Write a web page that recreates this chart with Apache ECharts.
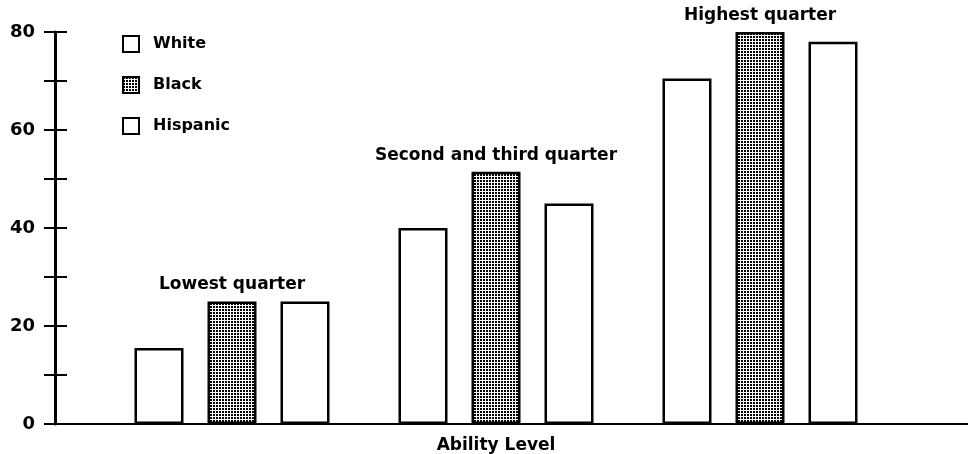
<!DOCTYPE html>
<html>
<head>
<meta charset="utf-8">
<script src="https://cdn.jsdelivr.net/npm/echarts@6/dist/echarts.min.js"></script>
<style>
  html, body { margin: 0; padding: 0; background: #fff; }
  #chart { width: 968px; height: 454px; }
</style>
</head>
<body>
<div id="chart"></div>
<script>
const categories = ['Lowest quarter', 'Second and third quarter', 'Highest quarter'];
const seriesNames = ['White', 'Black', 'Hispanic'];
const whiteValues = [15.5, 40, 70.5];
const blackValues = [25, 51.5, 80];
const hispanicValues = [25, 45, 78];
const yMin = 0, yMax = 80, yStep = 10, yLabelStep = 20;
const xAxisTitle = 'Ability Level';

const FONT = 'DejaVu Sans';

// dotted screen pattern for the "Black" bars
const pc = document.createElement('canvas');
pc.width = 3; pc.height = 3;
const pctx = pc.getContext('2d');
pctx.fillStyle = '#fff'; pctx.fillRect(0, 0, 3, 3);
pctx.fillStyle = '#000'; pctx.fillRect(0, 0, 2, 2);
const dotPattern = { image: pc, repeat: 'repeat' };

const chart = echarts.init(document.getElementById('chart'), null, { renderer: 'canvas' });

const barBase = {
  type: 'bar',
  xAxisIndex: 0,
  yAxisIndex: 0,
  barWidth: 49,
  barGap: '49%',
  animation: false
};

const option = {
  backgroundColor: '#fff',
  animation: false,
  grid: [
    { left: 100, right: 76, top: 32, bottom: 30, outerBoundsMode: 'none', containLabel: false },
    { left: 55, right: 0, top: 32, bottom: 30, outerBoundsMode: 'none', containLabel: false }
  ],
  legend: {
    data: seriesNames,
    orient: 'vertical',
    left: 122,
    top: 35,
    padding: 0,
    itemWidth: 16,
    itemHeight: 16,
    itemGap: 23,
    icon: 'rect',
    itemStyle: { borderColor: '#000', borderWidth: 2 },
    textStyle: { fontFamily: FONT, fontSize: 16, fontWeight: 'bold', color: '#000', padding: [0, 0, 0, 9] }
  },
  xAxis: [
    {
      type: 'category',
      gridIndex: 0,
      data: categories,
      axisLine: { show: false },
      axisTick: { show: false },
      axisLabel: { show: false },
      name: xAxisTitle,
      nameLocation: 'middle',
      nameGap: 13,
      nameTextStyle: { fontFamily: FONT, fontSize: 17, fontWeight: 'bold', color: '#000', verticalAlign: 'top', lineHeight: 17 }
    },
    {
      type: 'value',
      gridIndex: 1,
      min: 0, max: 1,
      axisLine: { show: true, onZero: false, lineStyle: { color: '#000', width: 2 } },
      axisTick: { show: false },
      axisLabel: { show: false },
      splitLine: { show: false }
    }
  ],
  yAxis: [
    {
      // bar scale; also draws the inner half of the crossing ticks at the outer axis position
      type: 'value',
      gridIndex: 0,
      position: 'left',
      offset: 45,
      min: yMin, max: yMax, interval: yStep,
      axisLine: { show: false },
      axisTick: { show: true, inside: true, length: 12, lineStyle: { color: '#000', width: 2 } },
      axisLabel: { show: false },
      splitLine: { show: false }
    },
    {
      type: 'value',
      gridIndex: 1,
      position: 'left',
      min: yMin, max: yMax, interval: yStep,
      axisLine: { show: true, lineStyle: { color: '#000', width: 3 } },
      axisTick: { show: true, inside: false, length: 11, lineStyle: { color: '#000', width: 2 } },
      axisLabel: {
        margin: 20,
        fontFamily: FONT, fontSize: 18, fontWeight: 'bold', color: '#000',
        formatter: v => (v % yLabelStep === 0 ? String(v) : '')
      },
      splitLine: { show: false }
    }
  ],
  series: [
    Object.assign({}, barBase, {
      name: seriesNames[0],
      data: whiteValues,
      itemStyle: { color: '#fff', borderColor: '#000', borderWidth: 2.5 }
    }),
    Object.assign({}, barBase, {
      name: seriesNames[1],
      data: blackValues,
      itemStyle: { color: dotPattern, borderColor: '#000', borderWidth: 2.5 },
      label: {
        show: true,
        position: 'top',
        distance: 8,
        formatter: p => p.name,
        fontFamily: FONT, fontSize: 17, fontWeight: 'bold', color: '#000'
      }
    }),
    Object.assign({}, barBase, {
      name: seriesNames[2],
      data: hispanicValues,
      itemStyle: { color: '#fff', borderColor: '#000', borderWidth: 2.5 }
    })
  ]
};

chart.setOption(option);
</script>
</body>
</html>
